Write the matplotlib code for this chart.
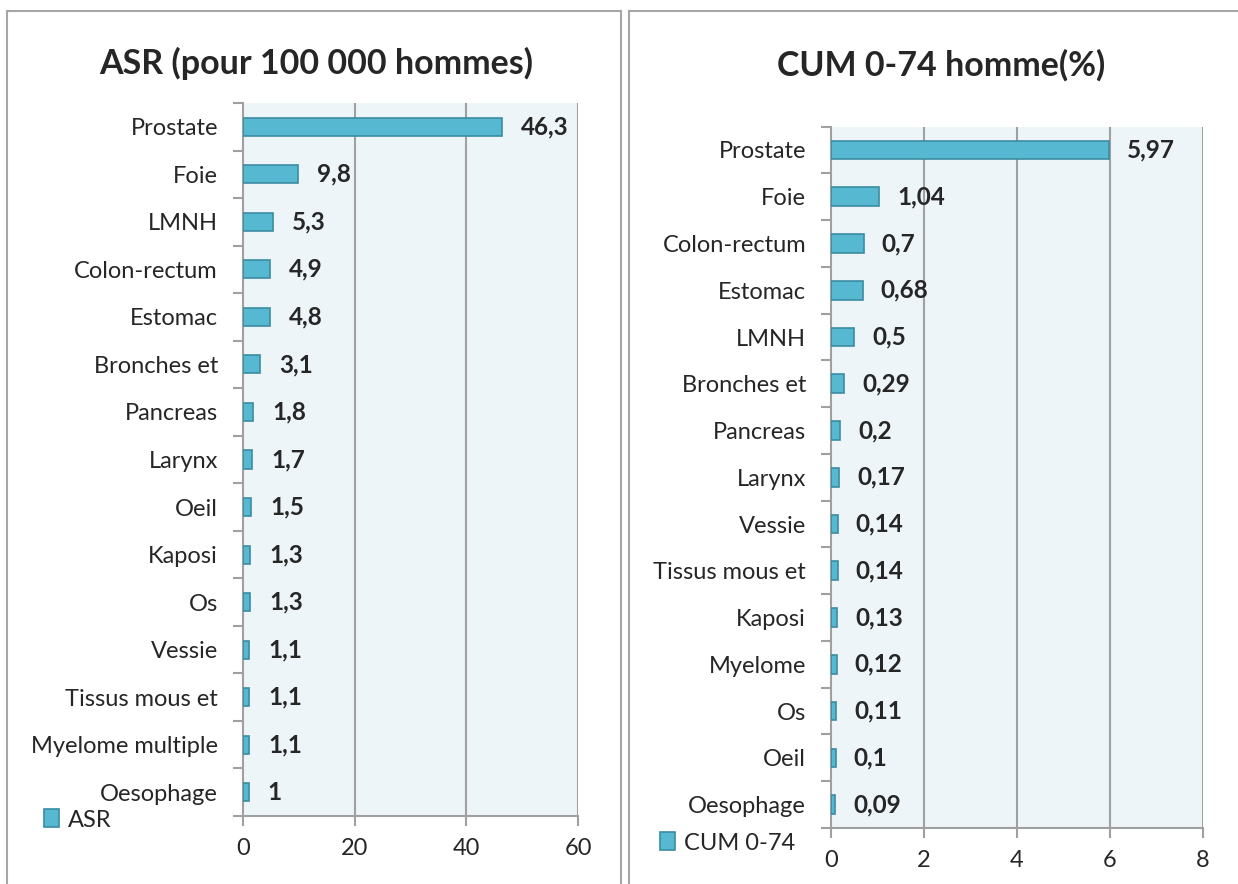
import matplotlib
matplotlib.use("Agg")
import matplotlib.pyplot as plt
from matplotlib.lines import Line2D

plt.rcParams['font.family'] = ['Lato', 'DejaVu Sans']

asr_categories = ["Prostate", "Foie", "LMNH", "Colon-rectum", "Estomac", "Bronches et",
                  "Pancreas", "Larynx", "Oeil", "Kaposi", "Os", "Vessie",
                  "Tissus mous et", "Myelome multiple", "Oesophage"]
asr_values = [46.3, 9.8, 5.3, 4.9, 4.8, 3.1, 1.8, 1.7, 1.5, 1.3, 1.3, 1.1, 1.1, 1.1, 1.0]
asr_ticks = [0, 20, 40, 60]

cum_categories = ["Prostate", "Foie", "Colon-rectum", "Estomac", "LMNH", "Bronches et",
                  "Pancreas", "Larynx", "Vessie", "Tissus mous et", "Kaposi", "Myelome",
                  "Os", "Oeil", "Oesophage"]
cum_values = [5.97, 1.04, 0.7, 0.68, 0.5, 0.29, 0.2, 0.17, 0.14, 0.14, 0.13, 0.12, 0.11, 0.1, 0.09]
cum_ticks = [0, 2, 4, 6, 8]

W, H = 1238, 884
fig = plt.figure(figsize=(W / 100, H / 100), dpi=100)
fig.patch.set_facecolor('white')

BAR = '#57B8D1'
EDGE = '#3A8CA2'
BG = '#EEF5F8'
GRID = '#A0A0A0'
TXT = '#262626'
FS = 17
VFS = 17.5


def fx(px):
    return px / W


def fy(py):
    return 1 - py / H


def panel(rect, cats, vals, ticks, title, title_xy, legend_label, legend_xy, offset_px, bar_h):
    x0, x1, y0, y1 = rect
    ax = fig.add_axes([fx(x0), fy(y1), fx(x1) - fx(x0), fy(y0) - fy(y1)])
    ax.set_facecolor(BG)
    n = len(cats)
    pos = list(range(n))
    bars = ax.barh(pos, vals, height=bar_h, color=BAR, edgecolor=EDGE, linewidth=1.2,
                   zorder=3, label=legend_label)
    ax.set_ylim(n - 0.5, -0.5)
    ax.set_xlim(ticks[0], ticks[-1])
    ax.set_xticks(ticks)
    ax.set_xticklabels([str(t) for t in ticks], fontsize=FS, color=TXT)
    ax.set_yticks(pos)
    ax.set_yticklabels(cats, fontsize=FS, color=TXT)
    ax.set_yticks([i - 0.5 for i in range(n + 1)], minor=True)
    ax.tick_params(axis='y', which='major', length=0, pad=18)
    ax.tick_params(axis='y', which='minor', length=7, width=1.5, color=GRID, direction='out')
    ax.tick_params(axis='x', which='major', length=7, width=1.5, color=GRID, direction='out', pad=9)
    for t in ticks[1:]:
        ax.axvline(t, color=GRID, linewidth=1.5, zorder=1)
    ax.spines['top'].set_visible(False)
    ax.spines['right'].set_visible(False)
    for s in ['left', 'bottom']:
        ax.spines[s].set_color(GRID)
        ax.spines[s].set_linewidth(1.5)
    span = ticks[-1] - ticks[0]
    off = offset_px / (x1 - x0) * span
    for p, v in zip(pos, vals):
        ax.text(v + off, p, f"{v:g}".replace('.', ','), va='center', ha='left',
                fontsize=VFS, fontweight='bold', color=TXT, zorder=4)
    fig.text(fx(title_xy[0]), fy(title_xy[1]), title, ha='center', va='center',
             fontsize=24.5, fontweight='bold', color=TXT)
    ax.legend(handles=[bars], labels=[legend_label], loc='center left',
              bbox_to_anchor=(fx(legend_xy[0]), fy(legend_xy[1])), bbox_transform=fig.transFigure,
              frameon=False, fontsize=FS, handlelength=0.65, handleheight=0.8,
              handletextpad=0.35, borderpad=0, borderaxespad=0, labelcolor=TXT)
    return ax


panel((243, 578, 103, 816), asr_categories, asr_values, asr_ticks,
      "ASR (pour 100 000 hommes)", (316, 63), "ASR", (44, 820), 19, 0.38)
panel((831, 1203, 126.6, 828), cum_categories, cum_values, cum_ticks,
      "CUM 0-74 homme(%)", (941, 65), "CUM 0-74", (660, 843), 18, 0.4)

# panel borders
BC = '#A6A6A6'
for (xa, ya, xb, yb) in [(7, 11, 7, H), (7, 11, 621, 11), (621, 11, 621, H),
                         (629, 11, 629, H), (629, 11, W, 11)]:
    fig.add_artist(Line2D([fx(xa), fx(xb)], [fy(ya), fy(yb)], color=BC, linewidth=1.5,
                          transform=fig.transFigure))

fig.savefig("out.png", dpi=100)
